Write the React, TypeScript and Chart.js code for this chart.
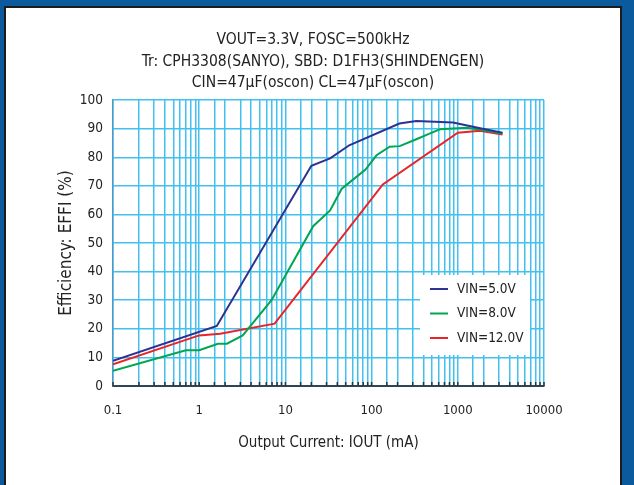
import React, { useEffect, useRef } from 'react';
import { Chart, registerables } from 'chart.js';

Chart.register(...registerables);

// ---- chart text ----
const titleLines = [
  'VOUT=3.3V, FOSC=500kHz',
  'Tr: CPH3308(SANYO), SBD: D1FH3(SHINDENGEN)',
  'CIN=47μF(oscon) CL=47μF(oscon)',
];
const xAxisTitle = 'Output Current: IOUT (mA)';
const yAxisTitle = 'Efficiency: EFFI (%)';
const xTickLabels = ['0.1', '1', '10', '100', '1000', '10000'];
const yTickValues = [0, 10, 20, 30, 40, 50, 60, 70, 80, 90, 100];
const seriesLabels = ['VIN=5.0V', 'VIN=8.0V', 'VIN=12.0V'];
const seriesColors = ['#2e3192', '#00a651', '#e8242b'];

// ---- data (output current mA / efficiency %) ----
const vin5Current = [0.1, 1.6, 20, 33, 55, 210, 330, 880, 1650, 3300];
const vin5Eff = [8.8, 21, 77, 79.6, 84.2, 91.8, 92.7, 92.2, 90.4, 88.6];

const vin8Current = [0.1, 0.7, 1.0, 1.65, 2.1, 3.2, 6.9, 21, 33, 45, 56, 85, 114, 162, 212, 330, 470, 620, 1260, 1800, 3300];
const vin8Eff = [5.3, 12.5, 12.5, 14.8, 14.8, 17.7, 30, 55.9, 61.4, 69, 71.3, 75.7, 80.7, 83.7, 83.9, 86.3, 88.3, 89.8, 90.3, 89.7, 88.3];

const vin12Current = [0.1, 1.0, 1.75, 7.5, 135, 1000, 1800, 3300];
const vin12Eff = [7.6, 17.7, 18.3, 21.8, 70.5, 88.6, 89.3, 88.0];

const FONT = "'Liberation Sans Narrow', 'Arial Narrow', 'DejaVu Sans Condensed', sans-serif";
const GRID = '#42c1f0';
const TEXT = '#222222';

const toPoints = (xs: number[], ys: number[]) => xs.map((x, i) => ({ x, y: ys[i] }));

const minorTickPlugin = {
  id: 'minorTicks',
  afterDatasetsDraw(chart: any) {
    const s = chart.scales.x;
    const { ctx, chartArea } = chart;
    ctx.save();
    ctx.strokeStyle = '#333';
    ctx.lineWidth = 1.5;
    s.ticks.forEach((t: any) => {
      const px = s.getPixelForValue(t.value);
      ctx.beginPath();
      ctx.moveTo(px, chartArea.bottom);
      ctx.lineTo(px, chartArea.bottom - 4);
      ctx.stroke();
    });
    ctx.restore();
  },
};

const boxLegendPlugin = {
  id: 'boxLegend',
  afterDatasetsDraw(chart: any) {
    const { ctx, chartArea } = chart;
    const w = 110;
    const h = 80;
    const left = chartArea.right - 14 - w;
    const top = chartArea.bottom - 31 - h;
    ctx.save();
    ctx.fillStyle = '#ffffff';
    ctx.fillRect(left, top, w, h);
    ctx.font = `13.5px ${FONT}`;
    ctx.textBaseline = 'middle';
    ctx.textAlign = 'left';
    chart.data.datasets.forEach((ds: any, i: number) => {
      const y = top + 14 + i * 24.5;
      ctx.strokeStyle = ds.borderColor;
      ctx.lineWidth = 2;
      ctx.beginPath();
      ctx.moveTo(left + 10, y);
      ctx.lineTo(left + 28, y);
      ctx.stroke();
      ctx.fillStyle = TEXT;
      ctx.fillText(ds.label, left + 37, y);
    });
    ctx.restore();
  },
};

function EfficiencyChart() {
  const ref = useRef<HTMLCanvasElement | null>(null);
  useEffect(() => {
    if (!ref.current) return;
    const chart = new Chart(ref.current, {
      type: 'line',
      data: {
        datasets: [
          { label: seriesLabels[0], data: toPoints(vin5Current, vin5Eff), borderColor: seriesColors[0], backgroundColor: seriesColors[0] },
          { label: seriesLabels[1], data: toPoints(vin8Current, vin8Eff), borderColor: seriesColors[1], backgroundColor: seriesColors[1] },
          { label: seriesLabels[2], data: toPoints(vin12Current, vin12Eff), borderColor: seriesColors[2], backgroundColor: seriesColors[2] },
        ],
      },
      options: {
        animation: false,
        responsive: false,
        devicePixelRatio: 1,
        layout: { padding: { left: 0, right: 0, top: 0, bottom: 0 } },
        elements: {
          line: { borderWidth: 2, tension: 0 },
          point: { radius: 0, hoverRadius: 0 },
        },
        plugins: {
          legend: { display: false },
          tooltip: { enabled: false },
          title: {
            display: true,
            text: titleLines,
            color: TEXT,
            font: { family: FONT, size: 15.5, weight: 'normal', lineHeight: 1.4 },
            padding: { top: 21, bottom: 6 },
          },
        },
        scales: {
          x: {
            type: 'logarithmic',
            min: 0.1,
            max: 10000,
            grid: { color: GRID, lineWidth: 1.5, drawTicks: false },
            border: { color: '#2d4656', width: 2 },
            ticks: {
              autoSkip: false,
              maxRotation: 0,
              padding: 17,
              color: TEXT,
              font: { family: FONT, size: 13 },
              callback: (v: any) => {
                const e = Math.log10(Number(v));
                if (Math.abs(e - Math.round(e)) < 1e-6) {
                  return xTickLabels[Math.round(e) + 1] ?? '';
                }
                return '';
              },
            },
            title: {
              display: true,
              text: xAxisTitle,
              color: TEXT,
              font: { family: FONT, size: 15, lineHeight: 1.2 },
              padding: { top: 0, bottom: 33 },
            },
            afterFit: (s: any) => { s.height = 99; },
          },
          y: {
            type: 'linear',
            min: 0,
            max: 100,
            afterBuildTicks: (s: any) => { s.ticks = yTickValues.map((v) => ({ value: v })); },
            grid: {
              color: (c: any) => (c.tick && c.tick.value === 0 ? 'rgba(0,0,0,0)' : GRID),
              lineWidth: 1.5,
              drawTicks: false,
            },
            border: { color: '#4a9cc8', width: 1.5 },
            ticks: {
              padding: 10,
              color: TEXT,
              font: { family: FONT, size: 13.5 },
            },
            title: {
              display: true,
              text: yAxisTitle,
              color: TEXT,
              font: { family: FONT, size: 17, lineHeight: 1.2 },
              padding: { top: 50, bottom: 0 },
            },
            afterFit: (s: any) => { s.width = 107; },
          },
          spacer: {
            type: 'linear',
            position: 'right',
            display: true,
            grid: { display: false, drawTicks: false },
            border: { display: false },
            ticks: { display: false },
            afterFit: (s: any) => { s.width = 76; },
          },
        },
      },
      plugins: [minorTickPlugin, boxLegendPlugin],
    } as any);
    return () => chart.destroy();
  }, []);
  return <canvas ref={ref} width={614} height={477} style={{ display: 'block' }} />;
}

export default function App() {
  return (
    <div style={{ position: 'absolute', left: 0, top: 0, width: 634, height: 485, background: '#0c5a9e', overflow: 'hidden' }}>
      <div
        style={{
          position: 'absolute',
          left: 4,
          top: 6,
          width: 614,
          height: 479,
          background: '#ffffff',
          borderLeft: '2px solid #1c1c1c',
          borderTop: '2px solid #1c1c1c',
          borderRight: '2px solid #1c1c1c',
        }}
      >
        <EfficiencyChart />
      </div>
    </div>
  );
}
